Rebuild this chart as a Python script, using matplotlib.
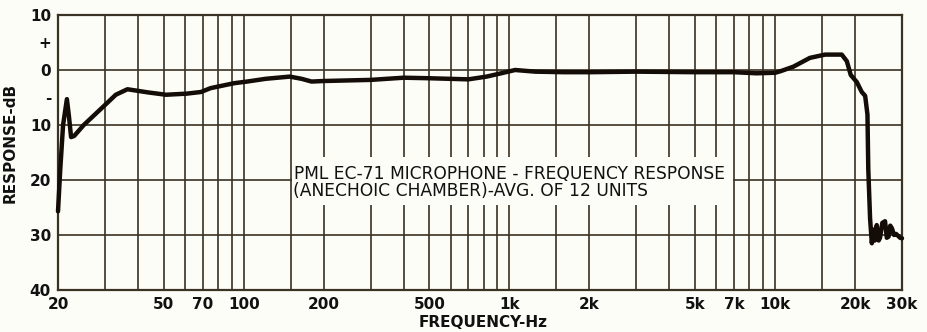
import matplotlib
matplotlib.use("Agg")
import matplotlib.pyplot as plt
from matplotlib.patches import Rectangle

# Averaged microphone response (Hz, dB re. reference level)
freq_hz = [20, 20.4, 20.9, 21.6, 22.0, 22.4, 23.0, 25.0, 30.0, 33.0, 36.5, 44.0,
           51.0, 61.0, 69.0, 75.0, 92.0, 103.0, 121.0, 149.0, 165.0, 180.0,
           200.0, 300.0, 400.0, 500.0, 700.0, 820.0, 930.0, 1050.0, 1250.0,
           1600.0, 2000.0, 3000.0, 5000.0, 7000.0, 8500.0, 10000.0, 10500.0,
           11700.0, 13500.0, 15400.0, 17800.0, 18600.0, 19240.0, 20280.0,
           21170.0, 21800.0, 22240.0, 22400.0, 22750.0, 23100.0, 23400.0,
           23700.0, 24100.0, 24500.0, 24800.0, 25300.0, 25900.0, 26300.0,
           26700.0, 27100.0, 27500.0, 28000.0, 28500.0, 29500.0, 30000.0]
response_db = [-25.7, -18.0, -10.0, -5.3, -8.5, -12.2, -12.0, -10.0, -6.4, -4.5,
               -3.5, -4.1, -4.5, -4.3, -4.0, -3.3, -2.4, -2.1, -1.6, -1.2, -1.6,
               -2.1, -2.0, -1.8, -1.4, -1.5, -1.7, -1.2, -0.6, 0.0, -0.3, -0.4,
               -0.4, -0.3, -0.4, -0.4, -0.6, -0.5, -0.2, 0.6, 2.2, 2.8, 2.8, 1.6,
               -0.9, -2.2, -4.0, -4.7, -8.1, -18.0, -27.0, -31.5, -29.0, -31.0,
               -28.2, -31.0, -30.5, -27.8, -27.5, -30.5, -30.3, -28.3, -28.8,
               -30.0, -29.8, -30.5, -30.6]

x_tick_values = [20, 50, 70, 100, 200, 500, 1000, 2000, 5000, 7000, 10000, 20000, 30000]
x_tick_labels = ["20", "50", "70", "100", "200", "500", "1k", "2k", "5k", "7k",
                 "10k", "20k", "30k"]
y_tick_values = [10, 5, 0, -5, -10, -20, -30, -40]
y_tick_labels = ["10", "+", "0", "-", "10", "20", "30", "40"]
vgrid_hz = [30, 40, 50, 60, 70, 80, 90, 100, 150, 200, 300, 400, 500, 600, 700,
            800, 900, 1000, 1500, 2000, 3000, 4000, 5000, 6000, 7000, 8000, 9000,
            10000, 15000, 20000]
hgrid_db = [0, -10, -20, -30]

title_lines = ["PML EC-71 MICROPHONE - FREQUENCY RESPONSE",
               "(ANECHOIC CHAMBER)-AVG. OF 12 UNITS"]

paper = "#fdfdf7"
ink = "#3a3222"
trace = "#140c06"

fig = plt.figure(figsize=(9.27, 3.32), dpi=100, facecolor=paper)
ax = fig.add_axes([58 / 927, 1 - 290 / 332, (902 - 58) / 927, (290 - 15) / 332])
ax.set_facecolor(paper)
ax.set_xscale("log")
ax.set_xlim(20, 30000)
ax.set_ylim(-40, 10)

for f in vgrid_hz:
    ax.axvline(f, color=ink, lw=1.2, zorder=1)
for d in hgrid_db:
    ax.axhline(d, color=ink, lw=1.2, zorder=1)

# blank panel behind the caption
ax.add_patch(Rectangle((0.277, 0.309), 0.523, 0.175, transform=ax.transAxes,
                       facecolor=paper, edgecolor="none", zorder=2))

ax.plot(freq_hz, response_db, color=trace, lw=3.2, solid_joinstyle="round",
        solid_capstyle="round", zorder=3, clip_on=False)

for s in ax.spines.values():
    s.set_color(ink)
    s.set_linewidth(1.6)

ax.set_xticks(x_tick_values)
ax.set_xticklabels(x_tick_labels)
ax.xaxis.set_minor_locator(matplotlib.ticker.NullLocator())
ax.set_yticks(y_tick_values)
ax.set_yticklabels(y_tick_labels)
ax.tick_params(axis="both", length=0, labelsize=11, colors="#111111")
ax.tick_params(axis="x", pad=5)
ax.tick_params(axis="y", pad=5)
for lab in ax.get_xticklabels() + ax.get_yticklabels():
    lab.set_fontweight("bold")

ax.set_xlabel("FREQUENCY-Hz", fontsize=11, fontweight="bold", color="#111111")
ax.xaxis.set_label_coords((483 - 58) / 844, -(315 - 290) / 275)
ax.set_ylabel("RESPONSE-dB", fontsize=11, fontweight="bold", color="#111111")
ax.yaxis.set_label_coords(-(58 - 18) / 844, (290 - 143) / 275)

ax.text(0.2796, 0.4236, title_lines[0], transform=ax.transAxes, fontsize=12.3,
        va="center", ha="left", color="#111111", zorder=4)
ax.text(0.2784, 0.36, title_lines[1], transform=ax.transAxes, fontsize=12.3,
        va="center", ha="left", color="#111111", zorder=4)

fig.savefig("out.png", dpi=100, facecolor=paper)
